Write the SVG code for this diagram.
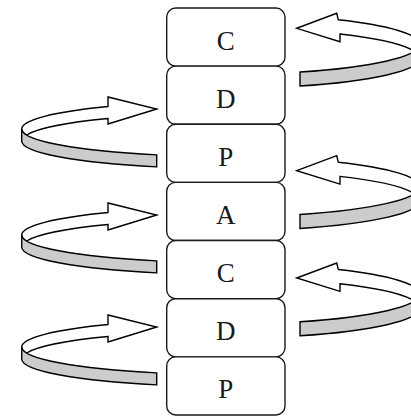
<svg xmlns="http://www.w3.org/2000/svg" width="411" height="416" viewBox="0 0 411 416">
<style>
.box{fill:#ffffff;stroke:#1a1a1a;stroke-width:1.4}
.lbl{font-family:"Liberation Serif","DejaVu Serif",serif;font-size:27px;fill:#1a1a1a;text-anchor:middle}
.aw{fill:#ffffff;stroke:#000000;stroke-width:1.4;stroke-linejoin:miter}
.ag{fill:#cccccc;stroke:#000000;stroke-width:1.4;stroke-linejoin:miter}
</style>
<rect width="411" height="416" fill="#ffffff"/>
<g id="connectors">
  <g id="loop-left-1" transform="translate(0,109)">
    <path class="aw" d="M 21.7 20 A 204.3 27.5 0 0 1 108 -2.45 L 108 -12 L 156.7 0 L 108 15 L 108 9.55 A 204.3 27.5 0 0 0 26.6 26 A 204.3 27.5 0 0 1 21.7 20 Z"/>
    <path class="ag" d="M 21.7 20 A 204.3 27.5 0 0 0 156.7 45.87 L 156.7 57.87 A 204.3 27.5 0 0 1 21.7 32 Z"/>
  </g>
  <g id="loop-left-2" transform="translate(0,215)">
    <path class="aw" d="M 21.7 20 A 204.3 27.5 0 0 1 108 -2.45 L 108 -12 L 156.7 0 L 108 15 L 108 9.55 A 204.3 27.5 0 0 0 26.6 26 A 204.3 27.5 0 0 1 21.7 20 Z"/>
    <path class="ag" d="M 21.7 20 A 204.3 27.5 0 0 0 156.7 45.87 L 156.7 57.87 A 204.3 27.5 0 0 1 21.7 32 Z"/>
  </g>
  <g id="loop-left-3" transform="translate(0,327)">
    <path class="aw" d="M 21.7 20 A 204.3 27.5 0 0 1 108 -2.45 L 108 -12 L 156.7 0 L 108 15 L 108 9.55 A 204.3 27.5 0 0 0 26.6 26 A 204.3 27.5 0 0 1 21.7 20 Z"/>
    <path class="ag" d="M 21.7 20 A 204.3 27.5 0 0 0 156.7 45.87 L 156.7 57.87 A 204.3 27.5 0 0 1 21.7 32 Z"/>
  </g>
  <g id="loop-right-1" transform="translate(0,28.3)">
    <path class="aw" d="M 419.7 16 A 193 30 0 0 0 338.3 -8.48 L 336.7 -15 L 296.7 0 L 340 13.4 L 340 5.71 A 193 30 0 0 1 414.4 23 A 193 30 0 0 0 419.7 16 Z"/>
    <path class="ag" d="M 419.7 16 A 193 30 0 0 1 300 43.75 L 300 57.75 A 193 30 0 0 0 419.7 30 Z"/>
  </g>
  <g id="loop-right-2" transform="translate(0,170.7)">
    <path class="aw" d="M 419.7 16 A 193 30 0 0 0 338.3 -8.48 L 336.7 -15 L 296.7 0 L 340 13.4 L 340 5.71 A 193 30 0 0 1 414.4 23 A 193 30 0 0 0 419.7 16 Z"/>
    <path class="ag" d="M 419.7 16 A 193 30 0 0 1 300 43.75 L 300 57.75 A 193 30 0 0 0 419.7 30 Z"/>
  </g>
  <g id="loop-right-3" transform="translate(0,278)">
    <path class="aw" d="M 419.7 16 A 193 30 0 0 0 338.3 -8.48 L 336.7 -15 L 296.7 0 L 340 13.4 L 340 5.71 A 193 30 0 0 1 414.4 23 A 193 30 0 0 0 419.7 16 Z"/>
    <path class="ag" d="M 419.7 16 A 193 30 0 0 1 300 43.75 L 300 57.75 A 193 30 0 0 0 419.7 30 Z"/>
  </g>
</g>
<g id="node-c1"><rect class="box" x="166.7" y="8" width="118.3" height="58.14" rx="9"/><text class="lbl" x="225.85" y="49.6">C</text></g>
<g id="node-d1"><rect class="box" x="166.7" y="66.14" width="118.3" height="58.14" rx="9"/><text class="lbl" x="225.85" y="107.7">D</text></g>
<g id="node-p1"><rect class="box" x="166.7" y="124.28" width="118.3" height="58.14" rx="9"/><text class="lbl" x="225.85" y="165.9">P</text></g>
<g id="node-a"><rect class="box" x="166.7" y="182.42" width="118.3" height="58.14" rx="9"/><text class="lbl" x="225.85" y="224">A</text></g>
<g id="node-c2"><rect class="box" x="166.7" y="240.56" width="118.3" height="58.14" rx="9"/><text class="lbl" x="225.85" y="282.1">C</text></g>
<g id="node-d2"><rect class="box" x="166.7" y="298.7" width="118.3" height="58.14" rx="9"/><text class="lbl" x="225.85" y="340.3">D</text></g>
<g id="node-p2"><rect class="box" x="166.7" y="356.84" width="118.3" height="58.14" rx="9"/><text class="lbl" x="225.85" y="398.4">P</text></g>
</svg>
